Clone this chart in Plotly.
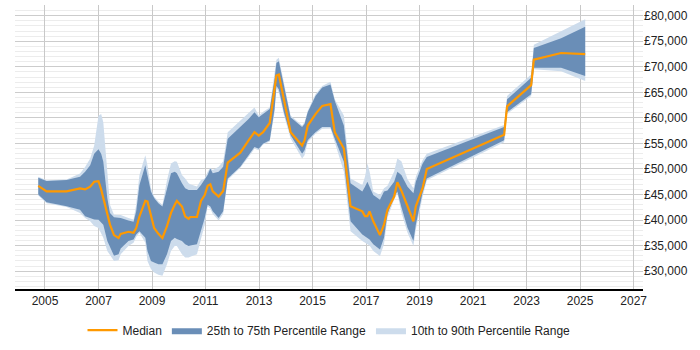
import plotly.graph_objects as go

years = [2004.75, 2005.06, 2005.81, 2006.31, 2006.5, 2006.69, 2006.84, 2007.0, 2007.1, 2007.18,
         2007.33, 2007.43, 2007.58, 2007.75, 2007.83, 2008.12, 2008.31, 2008.41, 2008.53, 2008.75,
         2008.83, 2008.96, 2009.08, 2009.24, 2009.39, 2009.56, 2009.71, 2009.85, 2009.93, 2010.12,
         2010.24, 2010.37, 2010.43, 2010.68, 2010.83, 2010.97, 2011.08, 2011.18, 2011.27, 2011.49,
         2011.66, 2011.83, 2012.3, 2012.61, 2012.83, 2012.99, 2013.15, 2013.4, 2013.58, 2013.65,
         2013.74, 2013.93, 2014.18, 2014.61, 2014.7, 2014.82, 2015.11, 2015.36, 2015.67, 2015.83,
         2016.17, 2016.42, 2016.86, 2016.96, 2017.05, 2017.13, 2017.27, 2017.52, 2017.67, 2017.8,
         2018.05, 2018.17, 2018.32, 2018.55, 2018.77, 2018.86, 2019.11, 2019.27, 2022.16, 2022.27,
         2023.17, 2023.27, 2024.29, 2025.19]

p10 = [44800, 43300, 42550, 41400, 40400, 39750, 38850, 38450, 37500, 36550,
       33950, 33300, 32000, 32150, 33300, 34900, 35550, 36700, 37500, 35550,
       32000, 30400, 29750, 29300, 29100, 31350, 33950, 34900, 34900, 33300,
       32650, 32650, 32800, 33300, 36550, 39100, 42650, 42200, 41200, 39900,
       41200, 47850, 50250, 52350, 53950, 53650, 54800, 55400, 61000, 65900,
       64950, 60550, 55950, 52050, 52700, 55250, 56900, 57850, 57950, 55250,
       49450, 37800, 35900, 35500, 35300, 35000, 33950, 32950, 35250, 40400,
       44000, 45250, 41500, 37500, 34900, 38150, 44500, 47800, 55250, 60750,
       64300, 69500, 69150, 67200]

p25 = [45000, 43500, 42700, 42000, 40750, 40400, 40100, 40050, 39600, 39100,
       35900, 34600, 33000, 33300, 34450, 35900, 36200, 37150, 37800, 36550,
       33950, 32000, 31700, 31350, 31350, 33300, 35900, 36550, 36300, 35900,
       35250, 34900, 35000, 35250, 37800, 40400, 43000, 42650, 41700, 40400,
       41700, 48150, 50450, 52700, 54300, 53950, 54950, 55600, 61750, 66250,
       65600, 61100, 56600, 53000, 53650, 55600, 57200, 58200, 58200, 55900,
       51400, 39750, 37150, 36800, 36500, 36200, 35250, 34250, 36550, 41200,
       44600, 45600, 42500, 38500, 35900, 39100, 45300, 48150, 55600, 61100,
       64650, 69800, 69800, 68200]

median = [46700, 45600, 45600, 46200, 46000, 46550, 47500, 47600, 46000, 44300,
          41050, 39100, 37050, 36500, 37300, 37700, 37500, 38450, 40700, 43750,
          43650, 41050, 38450, 37300, 36500, 38800, 41400, 43000, 43750, 42650,
          40700, 40250, 40600, 40600, 43750, 44900, 46700, 47000, 45600, 44600,
          45700, 51250, 53200, 55600, 57200, 56550, 57200, 59000, 65600, 68300,
          68500, 63650, 57200, 54600, 55600, 58500, 60750, 62350, 62700, 57200,
          54000, 42700, 41700, 40750, 40750, 41700, 39750, 37050, 39100, 42000,
          44600, 47400, 45750, 42700, 39750, 42700, 46200, 50000, 56700, 62250,
          66400, 71400, 72700, 72500]

p75 = [48300, 47650, 47850, 48500, 49450, 50750, 53000, 53850, 53000, 51400,
       44300, 41400, 40550, 40400, 40400, 39900, 39650, 41700, 46850, 50750,
       48800, 45600, 44300, 43300, 42650, 46200, 49150, 49450, 49150, 47200,
       46200, 45900, 45900, 45900, 46850, 47850, 48800, 50100, 49150, 49450,
       50450, 55900, 58200, 59800, 61100, 60100, 60750, 61750, 67550, 70750,
       71100, 66250, 60100, 58200, 58800, 61100, 64300, 65950, 66550, 63350,
       58500, 47200, 45600, 46500, 47500, 46500, 44900, 43950, 45600, 45800,
       47500, 49450, 48800, 46500, 45250, 47500, 51000, 52350, 58200, 63650,
       67850, 73700, 75600, 77850]

p90 = [48500, 47800, 47950, 49100, 50400, 52050, 54600, 60400, 60750, 59150,
       49450, 43000, 41050, 41050, 41000, 40400, 40100, 43000, 48800, 52700,
       50750, 46200, 44600, 43650, 43000, 47800, 51050, 51500, 51400, 48800,
       48150, 47200, 47000, 46550, 47850, 48150, 49450, 50250, 49800, 50450,
       51500, 57200, 59450, 61100, 62050, 60450, 61200, 62050, 68200, 71400,
       71750, 66550, 60450, 58500, 59150, 61400, 64650, 66250, 67050, 63650,
       60450, 48150, 46850, 48500, 51050, 49500, 45600, 44900, 46200, 46700,
       49500, 52050, 51500, 48000, 46200, 48500, 51700, 53000, 58600, 64300,
       68500, 74300, 76900, 79300]

x_ticks = list(range(2005, 2028, 2))

fig = go.Figure()

fig.add_trace(go.Scatter(
    x=years + years[::-1], y=p90 + p10[::-1],
    fill="toself", fillcolor="#cddcec", line=dict(width=0),
    mode="lines", name="10th to 90th Percentile Range", legendrank=3,
    hoverinfo="skip"))

fig.add_trace(go.Scatter(
    x=years + years[::-1], y=p75 + p25[::-1],
    fill="toself", fillcolor="#6a8eb7", line=dict(width=0),
    mode="lines", name="25th to 75th Percentile Range", legendrank=2,
    hoverinfo="skip"))

fig.add_trace(go.Scatter(
    x=years, y=median, mode="lines",
    line=dict(color="#ff9900", width=2.2),
    name="Median", legendrank=1))

fig.update_layout(
    width=700, height=350,
    margin=dict(l=15, r=57, t=5, b=58),
    paper_bgcolor="white", plot_bgcolor="white",
    font=dict(family="Arial, Liberation Sans, sans-serif", size=12, color="#222"),
    showlegend=True,
    legend=dict(orientation="h", x=0.5, xanchor="center", y=-0.145, yanchor="middle",
                font=dict(size=12, color="#222"), itemwidth=30, traceorder="normal"),
    xaxis=dict(range=[2003.88, 2027.35], tickmode="array", tickvals=x_ticks,
               ticktext=[str(v) for v in x_ticks],
               showgrid=True, gridcolor="#c8c8c8", gridwidth=1,
               showline=True, linecolor="#000", linewidth=1.5,
               ticks="", zeroline=False),
    yaxis=dict(range=[26500, 82100], side="right", tickprefix="£", tickformat=",d",
               dtick=5000, tick0=0,
               showgrid=True, gridcolor="#cccccc", gridwidth=1,
               minor=dict(dtick=1000, showgrid=True, gridcolor="#ececec", gridwidth=1),
               showline=False, ticks="", zeroline=False),
)

fig.write_html("out.html")
